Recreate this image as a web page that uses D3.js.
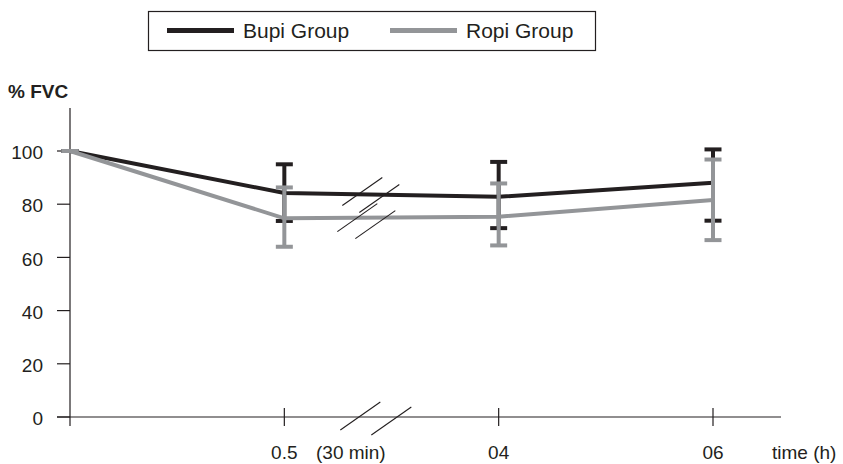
<!DOCTYPE html>
<html>
<head>
<meta charset="utf-8">
<script src="https://cdn.jsdelivr.net/npm/d3@7"></script>
<style>
  body { margin: 0; background: #fff; }
  text { font-family: "Liberation Sans", Arial, sans-serif; fill: #231f20; }
</style>
</head>
<body>
<script>
// data
const times = ["0", "0.5", "04", "06"];
const bupiMean = [100, 84.2, 82.8, 88.1];
const bupiHigh = [100, 95.0, 95.9, 100.6];
const bupiLow  = [100, 73.7, 71.0, 73.8];
const ropiMean = [100, 74.7, 75.3, 81.6];
const ropiHigh = [100, 86.3, 87.8, 96.8];
const ropiLow  = [100, 64.0, 64.5, 66.5];
const yTicks = [0, 20, 40, 60, 80, 100];

const width = 843, height = 464;
const black = "#231f20", grey = "#939598";

const svg = d3.select("body").append("svg")
  .attr("width", width)
  .attr("height", height);

const x = d3.scalePoint().domain(times).range([70, 713]);
const y = d3.scaleLinear().domain([0, 100]).range([417, 151]);

// **** axes *****************
const axes = svg.append("g").attr("stroke", black).attr("stroke-width", 1.2);

axes.append("line")
  .attr("x1", x("0")).attr("x2", x("0"))
  .attr("y1", 108).attr("y2", 426);

axes.append("line")
  .attr("x1", 57).attr("x2", 781)
  .attr("y1", y(0)).attr("y2", y(0));

axes.selectAll(".ytick")
  .data(yTicks)
  .join("line")
  .attr("x1", 57).attr("x2", x("0"))
  .attr("y1", d => y(d)).attr("y2", d => y(d));

axes.selectAll(".xtick")
  .data(times.slice(1))
  .join("line")
  .attr("x1", d => x(d)).attr("x2", d => x(d))
  .attr("y1", y(0) - 9).attr("y2", y(0) + 9);

svg.selectAll(".ylab")
  .data(yTicks)
  .join("text")
  .attr("x", 43)
  .attr("y", d => y(d))
  .attr("dy", "0.43em")
  .attr("text-anchor", "end")
  .attr("font-size", 19)
  .text(d => d);

svg.selectAll(".xlab")
  .data(times.slice(1))
  .join("text")
  .attr("x", d => x(d))
  .attr("y", 459)
  .attr("text-anchor", "middle")
  .attr("font-size", 19)
  .text(d => d);

svg.append("text").attr("x", 316).attr("y", 459).attr("font-size", 19).text("(30 min)");
svg.append("text").attr("x", 772).attr("y", 459).attr("font-size", 19).text("time (h)");
svg.append("text").attr("x", 8).attr("y", 98).attr("font-size", 19)
  .attr("font-weight", "bold").text("% FVC");

// **** series *****************
function series(mean, low, high, color) {
  const g = svg.append("g");
  const pts = times.map((t, i) => ({t, m: mean[i], lo: low[i], hi: high[i]}));

  g.append("path")
    .attr("fill", "none")
    .attr("stroke", color)
    .attr("stroke-width", 4)
    .attr("d", d3.line().x(d => x(d.t)).y(d => y(d.m))(pts));

  const eb = g.selectAll(".eb").data(pts).join("g").attr("stroke", color);
  eb.append("line")
    .attr("stroke-width", 4)
    .attr("x1", d => x(d.t)).attr("x2", d => x(d.t))
    .attr("y1", d => y(d.hi)).attr("y2", d => y(d.lo));
  eb.selectAll(".cap")
    .data(d => [[d.t, d.hi], [d.t, d.lo]])
    .join("line")
    .attr("stroke-width", 4)
    .attr("x1", d => x(d[0]) - 8.5).attr("x2", d => x(d[0]) + 8.5)
    .attr("y1", d => y(d[1])).attr("y2", d => y(d[1]));
}
series(bupiMean, bupiLow, bupiHigh, black);
series(ropiMean, ropiLow, ropiHigh, grey);

// **** axis breaks *****************
function slash(cx, cy) {
  svg.append("line")
    .attr("stroke", black).attr("stroke-width", 1.1)
    .attr("x1", cx - 20).attr("y1", cy + 14)
    .attr("x2", cx + 20).attr("y2", cy - 14);
}
const bx = x("0.5");
slash(bx + 76, y(0) - 1);
slash(bx + 107, y(0) + 4);
// on the lines
const mid = (a, b) => a + (b - a) * 0.4;
const yb = y(mid(bupiMean[1], bupiMean[2]));
slash(bx + 78, yb - 3);
slash(bx + 95, yb + 4);
const yr = y(mid(ropiMean[1], ropiMean[2]));
slash(bx + 73, yr);
slash(bx + 91, yr + 7);

// **** legend *****************
const legend = svg.append("g");
legend.append("rect")
  .attr("x", 148.5).attr("y", 11.5)
  .attr("width", 447).attr("height", 39)
  .attr("fill", "none").attr("stroke", black).attr("stroke-width", 1.2);
const leg = [
  {name: "Bupi Group", color: black, x: 167},
  {name: "Ropi Group", color: grey, x: 390}
];
const li = legend.selectAll(".li").data(leg).join("g");
li.append("line")
  .attr("x1", d => d.x).attr("x2", d => d.x + 67)
  .attr("y1", 30.5).attr("y2", 30.5)
  .attr("stroke", d => d.color).attr("stroke-width", 5);
li.append("text")
  .attr("x", d => d.x + 76).attr("y", 37.5)
  .attr("font-size", 21)
  .text(d => d.name);
</script>
</body>
</html>
